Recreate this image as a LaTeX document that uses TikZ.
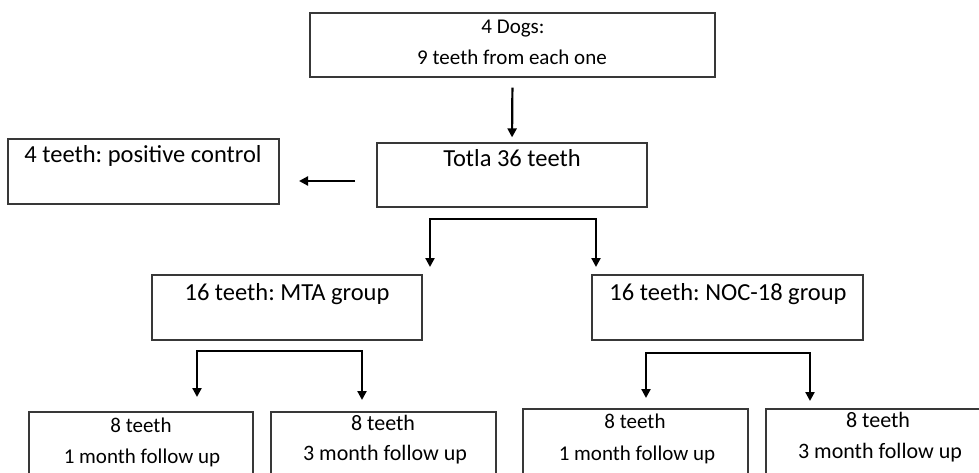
\documentclass[tikz,border=0pt]{standalone}
\usepackage{fontspec}
\setmainfont{Carlito}
\frenchspacing
\usetikzlibrary{arrows.meta,fit}
\begin{document}
\begin{tikzpicture}[x=1pt,y=-1pt,
  box/.style={draw=black!78, line width=1.2pt, inner sep=0pt, fill=none},
  tS/.style={anchor=base, inner sep=0pt, font=\fontsize{21}{25}\selectfont},
  tM/.style={anchor=base, inner sep=0pt, font=\fontsize{22}{26}\selectfont},
  tL/.style={anchor=base, inner sep=0pt, font=\fontsize{24.5}{29}\selectfont},
  arr/.style={line width=2.2pt, -{Triangle[length=9pt,width=9pt]}}]
\useasboundingbox (0,0) rectangle (979,473);
\clip (0,0) rectangle (979,473);
% boxes
\node[box, fit={(310,13) (715,77)}] (top) {};
\node[box, fit={(377,143) (647,207)}] (totla) {};
\node[box, fit={(8,139) (279,204)}] (pc) {};
\node[box, fit={(152,275) (422,340)}] (mta) {};
\node[box, fit={(592,275) (863,340)}] (noc) {};
\node[box, fit={(29,412) (253,485)}] (b1) {};
\node[box, fit={(271,412) (496,485)}] (b2) {};
\node[box, fit={(523,409) (748,485)}] (b3) {};
\node[box, fit={(766,409) (994,485)}] (b4) {};
% texts
\node[tS] (t1a) at (513,34) {4 Dogs:};
\node[tS] (t1b) at (512,65) {9 teeth from each one};
\node[tL] (t2) at (512,167) {Totla 36 teeth};
\node[tL] (t3) at (143,163) {4 teeth: positive control};
\node[tL] (t4) at (287,300) {16 teeth: MTA group};
\node[tL] (t5) at (728,300) {16 teeth: NOC-18 group};
\node[tS] (t6a) at (141,432) {8 teeth};
\node[tS] (t6b) at (142,463) {1 month follow up};
\node[tM] (t7a) at (383,430) {8 teeth};
\node[tM] (t7b) at (385,460) {3 month follow up};
\node[tS] (t8a) at (635,428) {8 teeth};
\node[tS] (t8b) at (637,460) {1 month follow up};
\node[tM] (t9a) at (878,427) {8 teeth};
\node[tM] (t9b) at (880,458) {3 month follow up};
% arrows
\draw[arr, shorten <=10pt, shorten >=5pt] (top.south) -- (totla.north);
\coordinate (la) at (355,181);
\coordinate (lb) at (299,181);
\draw[arr] (la) -- (lb);
\coordinate (s1) at (513,219);
\coordinate (s1L) at (430,267);
\coordinate (s1R) at (596,267);
\draw[arr] (s1) -| (s1L);
\draw[arr] (s1) -| (s1R);
\coordinate (s2) at (280,351);
\coordinate (s2L) at (197,397);
\coordinate (s2R) at (362,400);
\draw[arr] (s2) -| (s2L);
\draw[arr] (s2) -| (s2R);
\coordinate (s3) at (728,353);
\coordinate (s3L) at (646,398);
\coordinate (s3R) at (810,401);
\draw[arr] (s3) -| (s3L);
\draw[arr] (s3) -| (s3R);
\end{tikzpicture}
\end{document}
